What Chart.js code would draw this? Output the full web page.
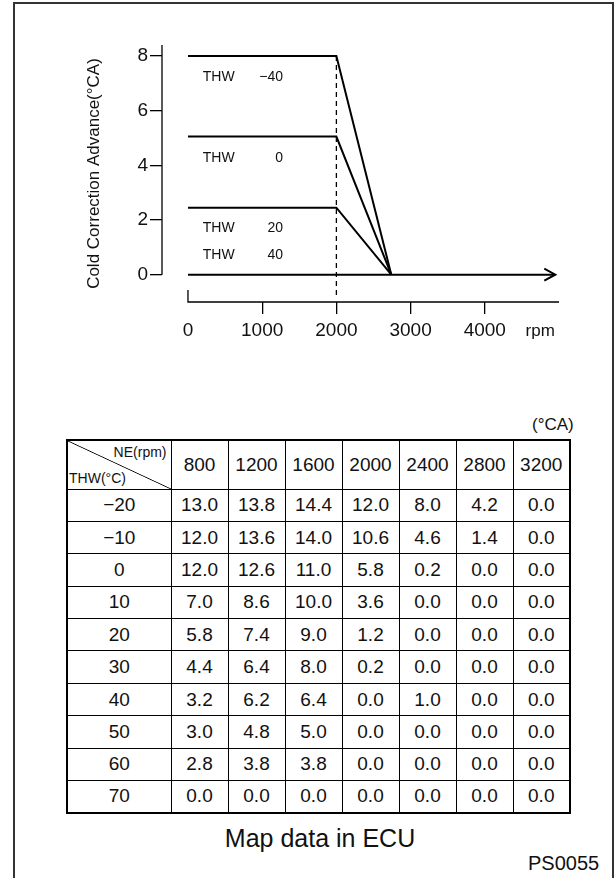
<!DOCTYPE html>
<html>
<head>
<meta charset="utf-8">
<script src="https://cdn.jsdelivr.net/npm/chart.js@4.4.1/dist/chart.umd.min.js"></script>
<style>
  html, body { margin: 0; padding: 0; background: #fff; width: 616px; height: 878px; overflow: hidden;
    font-family: "Liberation Sans", Arial, sans-serif; color: #111; }
  #frame { position: absolute; left: 13px; top: 2px; width: 601px; height: 920px; box-sizing: border-box; border: 2px solid #333; }
  #chartBox { position: absolute; left: 0; top: 0; width: 616px; height: 380px; }
  #unit { position: absolute; left: 532px; top: 415px; font-size: 17px; }
  table { position: absolute; left: 66px; top: 439px; width: 505px; border-collapse: collapse; table-layout: fixed; border: 2px solid #000; }
  td { border: 1px solid #000; text-align: center; font-size: 19px; padding: 0; }
  tr.head { height: 49px; }
  tr.row { height: 32.4px; }
  td.corner { position: relative; background: linear-gradient(to bottom left, transparent calc(50% - 0.8px), #000 50%, transparent calc(50% + 0.8px)); }
  td.corner span { position: absolute; font-size: 14px; line-height: 14px; }
  #caption { position: absolute; left: 0; width: 640px; top: 824px; text-align: center; font-size: 25px; }
  #code { position: absolute; left: 528px; top: 852px; font-size: 20px; }
</style>
</head>
<body>
<div id="frame"></div>
<div id="chartBox"><canvas id="myChart" width="616" height="380"></canvas></div>
<div id="unit">(°CA)</div>
<table id="map"></table>
<div id="caption">Map data in ECU</div>
<div id="code">PS0055</div>
<script>
// courbes du graphique
const rpmTicks = [0, 1000, 2000, 3000, 4000];
const advanceTicks = [0, 2, 4, 6, 8];
const curveTemps = ['−40', '0', '20', '40'];
const curveRpm = [0, 2000, 2740];
const thwMinus40 = [8, 8, 0];
const thw0 = [5.05, 5.05, 0];
const thw20 = [2.45, 2.45, 0];
const thw40Rpm = [0, 4950];
const thw40 = [0, 0];
const markerRpm = [2000, 2000];
const markerAdvance = [8, -0.75];

// table ECU
const mapRpm = [800, 1200, 1600, 2000, 2400, 2800, 3200];
const mapThw = ['−20', '−10', '0', '10', '20', '30', '40', '50', '60', '70'];
const mapValues = [
  [13.0, 13.8, 14.4, 12.0, 8.0, 4.2, 0.0],
  [12.0, 13.6, 14.0, 10.6, 4.6, 1.4, 0.0],
  [12.0, 12.6, 11.0, 5.8, 0.2, 0.0, 0.0],
  [7.0, 8.6, 10.0, 3.6, 0.0, 0.0, 0.0],
  [5.8, 7.4, 9.0, 1.2, 0.0, 0.0, 0.0],
  [4.4, 6.4, 8.0, 0.2, 0.0, 0.0, 0.0],
  [3.2, 6.2, 6.4, 0.0, 1.0, 0.0, 0.0],
  [3.0, 4.8, 5.0, 0.0, 0.0, 0.0, 0.0],
  [2.8, 3.8, 3.8, 0.0, 0.0, 0.0, 0.0],
  [0.0, 0.0, 0.0, 0.0, 0.0, 0.0, 0.0]
];

function pts(xs, ys) { return xs.map((x, i) => ({x: x, y: ys[i]})); }

var tbl = document.getElementById('map');
var html = '<colgroup><col style="width:104px">' + mapRpm.map(() => '<col>').join('') + '</colgroup>';
html += '<tr class="head"><td class="corner"><span style="right:4px;top:4px">NE(rpm)</span><span style="left:1px;top:30px">THW(°C)</span></td>';
html += mapRpm.map(r => '<td>' + r + '</td>').join('') + '</tr>';
mapThw.forEach(function(t, i) {
  html += '<tr class="row"><td>' + t + '</td>' + mapValues[i].map(v => '<td>' + v.toFixed(1) + '</td>').join('') + '</tr>';
});
tbl.innerHTML = html;

Chart.defaults.font.family = '"Liberation Sans", Arial, sans-serif';
Chart.defaults.color = '#111';

// axes dessinés à la main
const axesPlugin = {
  id: 'axesPlugin',
  afterDatasetsDraw(chart) {
    const ctx = chart.ctx, xs = chart.scales.x, ys = chart.scales.y, area = chart.chartArea;
    ctx.save();
    ctx.strokeStyle = '#000';
    ctx.lineWidth = 1.3;
    // axe Y
    ctx.beginPath();
    ctx.moveTo(area.left, area.top);
    ctx.lineTo(area.left, ys.getPixelForValue(0));
    ctx.stroke();
    // axe X
    const x0 = xs.getPixelForValue(0);
    ctx.beginPath();
    ctx.moveTo(x0, area.bottom - 12);
    ctx.lineTo(x0, area.bottom);
    ctx.lineTo(area.right, area.bottom);
    ctx.stroke();
    // fleche
    const ax = xs.getPixelForValue(thw40Rpm[thw40Rpm.length - 1]);
    const ay = ys.getPixelForValue(0);
    ctx.lineWidth = 2;
    ctx.beginPath();
    ctx.moveTo(ax - 11, ay - 6);
    ctx.lineTo(ax, ay);
    ctx.lineTo(ax - 11, ay + 6);
    ctx.stroke();
    // etiquettes THW
    const labelY = [7.23, 4.27, 1.71, 0.72];
    ctx.fillStyle = '#111';
    ctx.font = '14px "Liberation Sans", Arial, sans-serif';
    ctx.textBaseline = 'middle';
    curveTemps.forEach(function(t, i) {
      const y = ys.getPixelForValue(labelY[i]);
      ctx.textAlign = 'left';
      ctx.fillText('THW', xs.getPixelForValue(200), y);
      ctx.textAlign = 'right';
      ctx.fillText(t, xs.getPixelForValue(1280), y);
    });
    ctx.font = '17px "Liberation Sans", Arial, sans-serif';
    ctx.textAlign = 'left';
    ctx.fillText('rpm', xs.getPixelForValue(4550), area.bottom + 29);
    ctx.restore();
  }
};

var ctx = document.getElementById('myChart').getContext('2d');
var myChart = new Chart(ctx, {
  type: 'line',
  data: {
    datasets: [
      { data: pts(curveRpm, thwMinus40), borderColor: '#000', borderWidth: 2, pointRadius: 0 },
      { data: pts(curveRpm, thw0), borderColor: '#000', borderWidth: 2, pointRadius: 0 },
      { data: pts(curveRpm, thw20), borderColor: '#000', borderWidth: 2, pointRadius: 0 },
      { data: pts(thw40Rpm, thw40), borderColor: '#000', borderWidth: 2, pointRadius: 0 },
      { data: pts(markerRpm, markerAdvance), borderColor: '#000', borderWidth: 1.3, borderDash: [5, 4], pointRadius: 0 }
    ]
  },
  options: {
    responsive: false,
    animation: false,
    devicePixelRatio: 1,
    layout: { padding: { left: 0, top: 45, right: 57, bottom: 0 } },
    plugins: { legend: { display: false }, tooltip: { enabled: false } },
    scales: {
      x: {
        type: 'linear', min: -350, max: 5000,
        afterBuildTicks: function(scale) { scale.ticks = rpmTicks.map(v => ({value: v})); },
        afterFit: function(scale) { scale.height = 78; },
        border: { display: false },
        grid: { drawOnChartArea: false, drawTicks: true, tickLength: 12, lineWidth: 1.3,
          color: c => (c.tick && c.tick.value === 0) ? 'rgba(0,0,0,0)' : '#000' },
        ticks: { autoSkip: false, maxRotation: 0, padding: 5, font: { size: 19 }, callback: v => String(v) }
      },
      y: {
        type: 'linear', min: -1, max: 8.4,
        afterBuildTicks: function(scale) { scale.ticks = advanceTicks.map(v => ({value: v})); },
        afterFit: function(scale) { scale.width = 162; },
        border: { display: false },
        grid: { drawOnChartArea: false, drawTicks: true, tickLength: 12, lineWidth: 1.3, color: '#000' },
        ticks: { autoSkip: false, padding: 2, font: { size: 19 }, callback: v => String(v) },
        title: { display: true, text: 'Cold Correction Advance(°CA)', font: { size: 17 }, padding: { top: 84, bottom: 0 } }
      }
    }
  },
  plugins: [axesPlugin]
});
</script>
</body>
</html>
